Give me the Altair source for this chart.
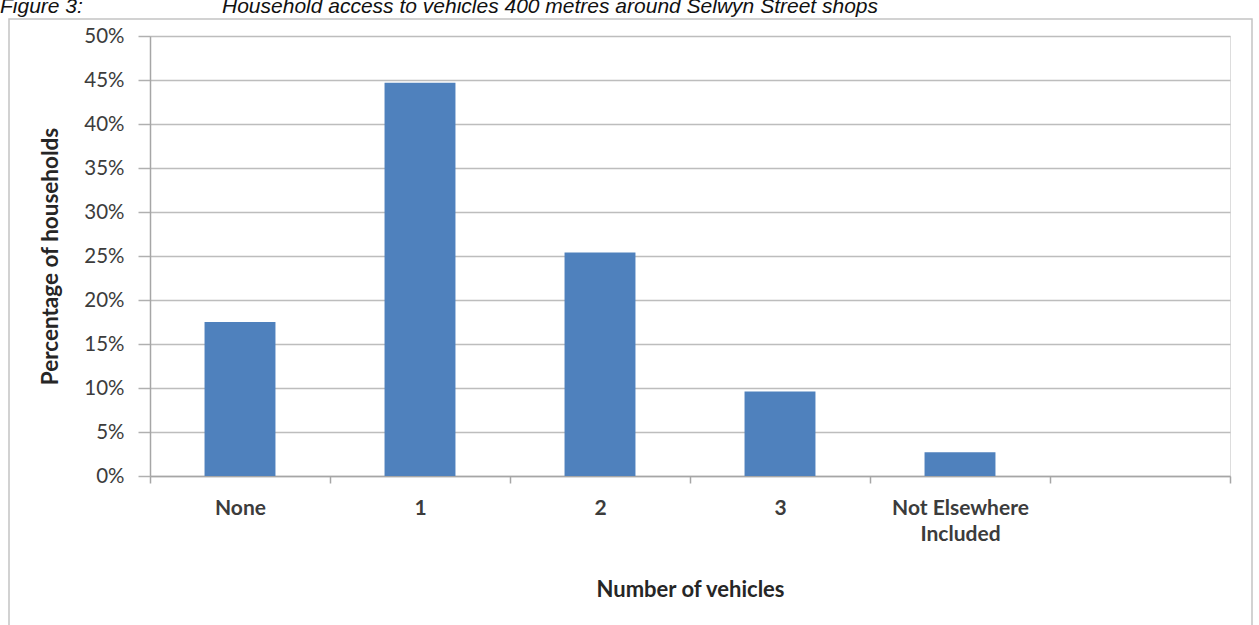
import altair as alt
import pandas as pd

categories = ["None", "1", "2", "3", "Not Elsewhere Included"]
domain_slots = ["None", "1", "2", "3", "Not Elsewhere Included", " "]
percent = [0.175, 0.447, 0.254, 0.096, 0.027]
y_ticks = [0, 0.05, 0.10, 0.15, 0.20, 0.25, 0.30, 0.35, 0.40, 0.45, 0.50]

fig_label = "Figure 3:"
fig_title = "Household access to vehicles 400 metres around Selwyn Street shops"
x_title = "Number of vehicles"
y_title = "Percentage of households"

df = pd.DataFrame({"cat": categories, "pct": percent})

FONT = "Lato"
W, H = 1080, 440
PL, PT, PR, PB = 150, 36, 29, 149

bars = alt.Chart(df).mark_bar(
    color="#4F81BD", width=alt.RelativeBandSize(0.394)
).encode(
    x=alt.X(
        "cat:N",
        sort=domain_slots,
        scale=alt.Scale(domain=domain_slots, paddingInner=0, paddingOuter=0),
        axis=alt.Axis(
            title=x_title,
            labelAngle=0,
            tickBand="extent",
            tickSize=7,
            tickColor="#a6a6a6",
            tickWidth=1.5,
            domainColor="#a6a6a6",
            domainWidth=1.5,
            labelFont=FONT,
            labelFontSize=21,
            labelFontWeight="bold",
            labelColor="#3c3c3c",
            labelPadding=14,
            labelLineHeight=26,
            labelExpr="datum.value == 'Not Elsewhere Included' ? ['Not Elsewhere', 'Included'] : datum.value",
            titleFont=FONT,
            titleFontSize=22,
            titleFontWeight="bold",
            titleColor="#262626",
            titleBaseline="middle",
            titleY=113,
            grid=False,
        ),
    ),
    y=alt.Y(
        "pct:Q",
        scale=alt.Scale(domain=[0, 0.5], nice=False),
        axis=alt.Axis(
            title=y_title,
            values=y_ticks,
            format=".0%",
            tickSize=12,
            tickColor="#b0b0b0",
            tickWidth=1.5,
            domainColor="#a6a6a6",
            domainWidth=1.5,
            gridColor="#bdbdbd",
            gridWidth=1.5,
            labelFont=FONT,
            labelFontSize=20.5,
            labelColor="#3c3c3c",
            labelPadding=14,
            titleFont=FONT,
            titleFontSize=22.5,
            titleFontWeight="bold",
            titleColor="#262626",
            titleAlign="center",
            titleBaseline="middle",
            titleX=-100,
            titleY=H / 2,
        ),
    ),
)

one = alt.Data(values=[{"k": 1}])

border = alt.Chart(one).mark_rect(
    fill="transparent", stroke="#c4c4c4", strokeWidth=1.5
).encode(
    x=alt.value(9 - PL), x2=alt.value(1252 - PL),
    y=alt.value(19 - PT), y2=alt.value(640 - PT),
)

t1 = alt.Chart(one).mark_text(
    align="left", baseline="alphabetic", font="Liberation Sans",
    fontSize=21, fontStyle="italic", color="#111111"
).encode(x=alt.value(0 - PL), y=alt.value(13 - PT), text=alt.value(fig_label))

t2 = alt.Chart(one).mark_text(
    align="left", baseline="alphabetic", font="Liberation Sans",
    fontSize=21, fontStyle="italic", color="#111111"
).encode(x=alt.value(222 - PL), y=alt.value(13 - PT), text=alt.value(fig_title))

chart = alt.layer(border, bars, t1, t2).properties(
    width=W, height=H,
    autosize=alt.AutoSizeParams(type="none"),
    padding={"left": PL, "top": PT, "right": PR, "bottom": PB},
).configure_view(stroke=None).configure(background="white")

chart.save("out.html", embed_options={"renderer": "svg", "actions": False})
